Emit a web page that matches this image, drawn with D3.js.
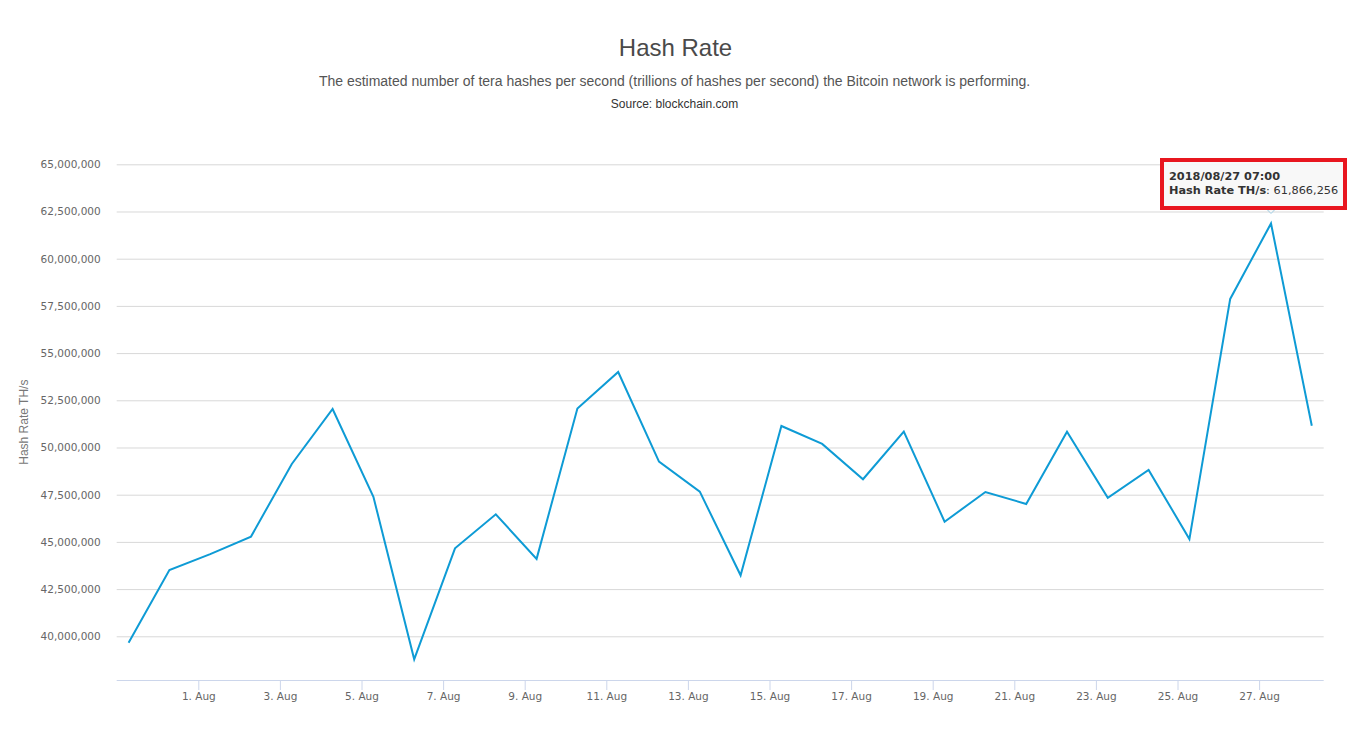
<!DOCTYPE html>
<html>
<head>
<meta charset="utf-8">
<script src="https://cdn.jsdelivr.net/npm/d3@7"></script>
<style>
  html, body { margin: 0; padding: 0; background: #fff; }
  svg { display: block; }
</style>
</head>
<body>
<svg id="chart" width="1351" height="747"></svg>
<script>
// ---- data ----
const dates = [
  "2018-07-30","2018-07-31","2018-08-01","2018-08-02","2018-08-03","2018-08-04",
  "2018-08-05","2018-08-06","2018-08-07","2018-08-08","2018-08-09","2018-08-10",
  "2018-08-11","2018-08-12","2018-08-13","2018-08-14","2018-08-15","2018-08-16",
  "2018-08-17","2018-08-18","2018-08-19","2018-08-20","2018-08-21","2018-08-22",
  "2018-08-23","2018-08-24","2018-08-25","2018-08-26","2018-08-27","2018-08-28"
];
const hashRate = [
  39660000, 43510000, 44350000, 45280000, 49130000, 52040000,
  47390000, 38780000, 44660000, 46460000, 44100000, 52060000,
  54000000, 49250000, 47660000, 43230000, 51140000, 50190000,
  48320000, 50840000, 46070000, 47640000, 47010000, 50840000,
  47340000, 48810000, 45150000, 57870000, 61866256, 51150000
];
const yTickValues = [40000000, 42500000, 45000000, 47500000, 50000000, 52500000, 55000000, 57500000, 60000000, 62500000, 65000000];
const xTickDays = ["2018-08-01","2018-08-03","2018-08-05","2018-08-07","2018-08-09","2018-08-11","2018-08-13","2018-08-15","2018-08-17","2018-08-19","2018-08-21","2018-08-23","2018-08-25","2018-08-27"];

const titleText = "Hash Rate";
const subtitleText = "The estimated number of tera hashes per second (trillions of hashes per second) the Bitcoin network is performing.";
const sourceText = "Source: blockchain.com";
const yAxisTitle = "Hash Rate TH/s";
const seriesName = "Hash Rate TH/s";

// ---- layout ----
const W = 1351, H = 747;
const plot = { left: 116.7, right: 1323.7, top: 164.3, bottom: 680 };
const lineColor = "#0e9bd5";
const labelFont = "'DejaVu Sans', Verdana, sans-serif";

const parse = d3.utcParse("%Y-%m-%d");
const pointTime = s => new Date(parse(s).getTime() + 7 * 3600e3); // daily at 07:00
const data = dates.map((d, i) => ({ t: pointTime(d), v: hashRate[i] }));

const x = d3.scaleUtc()
  .domain([new Date(parse(dates[0]).getTime()), new Date(parse(dates[dates.length - 1]).getTime() + 14 * 3600e3)])
  .range([plot.left, plot.right]);
const y = d3.scaleLinear()
  .domain([37685000, 65000000])
  .range([plot.bottom, plot.top]);

const svg = d3.select("#chart");

// titles
svg.append("text").attr("x", W / 2).attr("y", 56).attr("text-anchor", "middle")
  .attr("font-family", "'Liberation Sans', Arial, sans-serif").attr("font-size", 24)
  .attr("fill", "#4a4a4a").text(titleText);
svg.append("text").attr("x", W / 2 - 1).attr("y", 86).attr("text-anchor", "middle")
  .attr("font-family", "'Liberation Sans', Arial, sans-serif").attr("font-size", 14)
  .attr("fill", "#555").text(subtitleText);
svg.append("text").attr("x", W / 2 - 1).attr("y", 107.5).attr("text-anchor", "middle")
  .attr("font-family", "'Liberation Sans', Arial, sans-serif").attr("font-size", 12)
  .attr("fill", "#333").text(sourceText);

// y grid + labels
const yAxis = d3.axisLeft(y).tickValues(yTickValues)
  .tickSize(-(plot.right - plot.left)).tickPadding(16)
  .tickFormat(d3.format(","));
const gy = svg.append("g").attr("transform", `translate(${plot.left},0)`).call(yAxis);
gy.select(".domain").remove();
gy.selectAll(".tick line").attr("stroke", "#d8d8d8").attr("stroke-width", 1);
gy.selectAll(".tick text").attr("font-family", labelFont).attr("font-size", 10.5)
  .attr("fill", "#666").attr("dy", "0.32em");

// x axis
const xAxis = d3.axisBottom(x).tickValues(xTickDays.map(parse))
  .tickSize(10).tickPadding(3)
  .tickFormat(d3.utcFormat("%-d. %b"));
const gx = svg.append("g").attr("transform", `translate(0,${plot.bottom})`).call(xAxis);
gx.select(".domain").attr("stroke", "#ccd6eb").attr("d", `M${plot.left},0.5H${plot.right}`);
gx.selectAll(".tick line").attr("stroke", "#ccd6eb");
gx.selectAll(".tick text").attr("font-family", labelFont).attr("font-size", 10.5)
  .attr("fill", "#666");

// y axis title
svg.append("text")
  .attr("transform", `translate(28,${(plot.top + plot.bottom) / 2}) rotate(-90)`)
  .attr("text-anchor", "middle")
  .attr("font-family", "'Liberation Sans', Arial, sans-serif").attr("font-size", 12)
  .attr("fill", "#777").text(yAxisTitle);

// line
const line = d3.line().x(d => x(d.t)).y(d => y(d.v));
svg.append("path").datum(data).attr("d", line)
  .attr("fill", "none").attr("stroke", lineColor).attr("stroke-width", 2)
  .attr("stroke-linejoin", "miter");

// tooltip at max point
const maxPt = data.reduce((a, b) => (b.v > a.v ? b : a));
const ax = x(maxPt.t), ay = y(maxPt.v);
const tip = svg.append("g");
// callout pointer
tip.append("path")
  .attr("d", `M${ax - 6},${ay - 16} L${ax},${ay - 10} L${ax + 6},${ay - 16}`)
  .attr("fill", "#f7f7f7").attr("stroke", "#9ccbe3").attr("stroke-width", 1);
const bx = 1162, by = 160, bw = 183, bh = 48;
tip.append("rect").attr("x", bx).attr("y", by).attr("width", bw).attr("height", bh)
  .attr("fill", "#f7f7f7").attr("fill-opacity", 0.92)
  .attr("stroke", "#e8161f").attr("stroke-width", 4);
const fmtTip = d3.utcFormat("%Y/%m/%d %H:%M");
tip.append("text").attr("x", bx + 7).attr("y", by + 20)
  .attr("font-family", labelFont).attr("font-size", 11.3).attr("font-weight", "bold")
  .attr("fill", "#333").text(fmtTip(maxPt.t));
const t2 = tip.append("text").attr("x", bx + 7).attr("y", by + 34)
  .attr("font-family", labelFont).attr("font-size", 11.3).attr("fill", "#333");
t2.append("tspan").attr("font-weight", "bold").text(seriesName);
t2.append("tspan").text(": " + d3.format(",")(maxPt.v));
</script>
</body>
</html>
